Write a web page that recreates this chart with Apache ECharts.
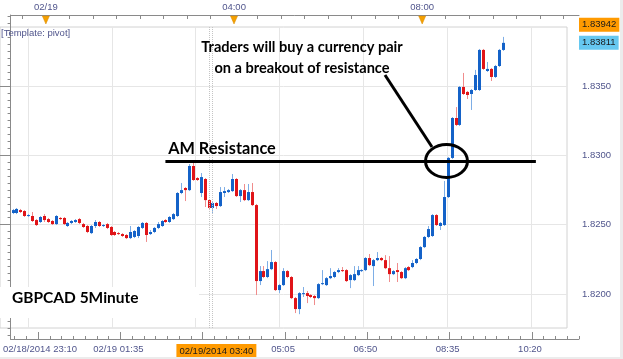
<!DOCTYPE html>
<html><head><meta charset="utf-8">
<script src="https://cdn.jsdelivr.net/npm/echarts@6/dist/echarts.min.js"></script>
<style>html,body{margin:0;padding:0;background:#fff}#c{width:623px;height:359px}</style>
</head><body><div id="c"></div>
<script>
// GBPCAD 5-minute candles (slot 0 = first visible bar)
const opens = [1.82584,1.82584,1.82605,1.82598,1.82562,1.82562,1.82533,1.82519,1.82562,1.82540,1.82526,1.82504,1.82548,1.82548,1.82490,1.82512,1.82519,1.82540,1.82504,1.82490,1.82439,1.82490,1.82519,1.82490,1.82504,1.82483,
1.82447,1.82439,1.82432,1.82425,1.82403,1.82411,1.82418,1.82476,1.82512,1.82432,1.82447,1.82476,1.82490,1.82533,1.82519,1.82540,1.82562,1.82728,1.82764,1.82749,1.82923,1.82836,1.82728,1.82829,1.82677,
1.82620,1.82656,1.82634,1.82728,1.82735,1.82742,1.82829,1.82706,1.82749,1.82677,1.82735,1.82641,1.82093,1.82165,1.82122,1.82179,1.82230,1.82028,1.82064,1.82165,1.82122,1.81970,1.81891,1.81999,1.82006,
1.81992,1.81985,1.81970,1.82071,1.82064,1.82114,1.82122,1.82158,1.82172,1.82172,1.82100,1.82100,1.82136,1.82165,1.82172,1.82259,1.82201,1.82244,1.82259,1.82244,1.82186,1.82143,1.82172,1.82158,1.82114,
1.82194,1.82194,1.82223,1.82252,1.82338,1.82411,1.82418,1.82569,1.82490,1.82497,1.82699,1.82981,1.83269,1.83219,1.83493,1.83457,1.83442,1.83471,1.83471,1.83760,1.83608,1.83623,1.83565,1.83644,1.83760];
const closes = [1.82605,1.82613,1.82591,1.82562,1.82569,1.82526,1.82497,1.82555,1.82533,1.82519,1.82504,1.82562,1.82540,1.82504,1.82512,1.82526,1.82533,1.82512,1.82483,1.82447,1.82490,1.82519,1.82490,1.82497,1.82476,1.82425,
1.82425,1.82432,1.82418,1.82403,1.82447,1.82454,1.82483,1.82512,1.82425,1.82447,1.82476,1.82504,1.82526,1.82519,1.82555,1.82576,1.82728,1.82749,1.82749,1.82923,1.82822,1.82822,1.82843,1.82677,1.82620,
1.82656,1.82634,1.82735,1.82742,1.82749,1.82829,1.82706,1.82749,1.82677,1.82735,1.82641,1.82093,1.82165,1.82122,1.82179,1.82230,1.82028,1.82064,1.82165,1.82122,1.81970,1.81891,1.82006,1.82006,1.81985,
1.81978,1.81970,1.82071,1.82078,1.82114,1.82129,1.82158,1.82172,1.82165,1.82093,1.82136,1.82143,1.82172,1.82172,1.82259,1.82208,1.82244,1.82259,1.82244,1.82186,1.82143,1.82165,1.82158,1.82114,1.82186,
1.82172,1.82223,1.82252,1.82338,1.82411,1.82468,1.82569,1.82497,1.82512,1.82699,1.82981,1.83269,1.83219,1.83493,1.83442,1.83435,1.83471,1.83579,1.83760,1.83623,1.83623,1.83565,1.83644,1.83760,1.83811];
const lows = [1.82576,1.82576,1.82584,1.82555,1.82555,1.82519,1.82490,1.82512,1.82519,1.82512,1.82497,1.82497,1.82533,1.82497,1.82483,1.82504,1.82512,1.82504,1.82476,1.82439,1.82432,1.82476,1.82483,1.82483,1.82468,1.82418,
1.82418,1.82425,1.82411,1.82396,1.82396,1.82403,1.82403,1.82468,1.82375,1.82425,1.82439,1.82468,1.82483,1.82512,1.82512,1.82533,1.82555,1.82720,1.82670,1.82742,1.82815,1.82815,1.82699,1.82627,1.82605,
1.82584,1.82613,1.82627,1.82699,1.82728,1.82735,1.82699,1.82663,1.82670,1.82670,1.82634,1.81992,1.82064,1.82114,1.82114,1.82172,1.82021,1.82006,1.82057,1.82114,1.81963,1.81862,1.81854,1.81978,1.81934,
1.81970,1.81920,1.81963,1.82064,1.82057,1.82107,1.82114,1.82150,1.82158,1.82086,1.82042,1.82093,1.82129,1.82158,1.82165,1.82201,1.82057,1.82237,1.82237,1.82179,1.82086,1.82136,1.82086,1.82107,1.82107,
1.82165,1.82186,1.82215,1.82244,1.82331,1.82403,1.82411,1.82490,1.82461,1.82490,1.82692,1.82973,1.83211,1.83211,1.83435,1.83406,1.83327,1.83464,1.83464,1.83616,1.83601,1.83536,1.83558,1.83637,1.83753];
const highs = [1.82613,1.82620,1.82613,1.82605,1.82576,1.82591,1.82540,1.82562,1.82576,1.82548,1.82533,1.82569,1.82555,1.82555,1.82519,1.82533,1.82540,1.82548,1.82512,1.82497,1.82497,1.82533,1.82526,1.82504,1.82512,1.82490,
1.82454,1.82447,1.82439,1.82432,1.82490,1.82461,1.82490,1.82519,1.82519,1.82461,1.82483,1.82519,1.82533,1.82540,1.82562,1.82584,1.82735,1.82800,1.82771,1.82937,1.82945,1.82843,1.82872,1.82836,1.82684,
1.82663,1.82663,1.82771,1.82771,1.82757,1.82865,1.82836,1.82757,1.82793,1.82793,1.82800,1.82649,1.82201,1.82201,1.82237,1.82317,1.82237,1.82071,1.82186,1.82172,1.82129,1.81978,1.82013,1.82050,1.82021,
1.81999,1.81992,1.82078,1.82172,1.82122,1.82186,1.82165,1.82186,1.82194,1.82179,1.82143,1.82201,1.82201,1.82179,1.82266,1.82288,1.82252,1.82302,1.82266,1.82280,1.82273,1.82172,1.82223,1.82165,1.82194,
1.82201,1.82244,1.82259,1.82345,1.82418,1.82490,1.82576,1.82576,1.82519,1.82815,1.82988,1.83276,1.83348,1.83500,1.83594,1.83464,1.83478,1.83616,1.83767,1.83767,1.83673,1.83630,1.83652,1.83767,1.83854];

// axis ticks / labels
const yMajor = [1.8200, 1.8250, 1.8300, 1.8350];
const priceTags = [1.83942, 1.83811];
const bottomLabelSlots = [7.5, 27.5, 52.5, 69.5, 90.5, 111.5, 132.5];
const bottomLabels = ['02/18/2014 23:10', '02/19 01:35', '02/19/2014 03:40', '05:05', '06:50', '08:35', '10:20'];
const cursorLabel = '02/19/2014 03:40';
const bottomMajorTicks = [7, 28, 49, 70, 91, 112, 133];
const topLabelSlots = [9, 57, 105];
const topLabels = ['02/19', '04:00', '08:00'];
const resistance = 1.82954;
const cursorLines = [52.4, 53.1];

const yMinor = [];
for (let k = 0; k <= 46; k++) yMinor.push(+(1.8170 + k * 0.0005).toFixed(4));
const bottomMinorTicks = [];
for (let v = 1; v <= 145; v += 3) bottomMinorTicks.push(v);
const topTicks = [];
for (let v = 3; v <= 145; v += 6) topTicks.push(v);
const slots = Array.from({length: 145}, (_, i) => String(i));

const UP = '#1462c8', DOWN = '#e01418', UPW = '#7eaee6', DOWNW = '#f08c8c';
const LBL = '#50558c', AX = '#8a8a8a';
const FONT = "'Liberation Sans', Arial, sans-serif";

const chart = echarts.init(document.getElementById('c'), null, {renderer: 'canvas'});
const candleData = opens.map((o, i) => [i, o, closes[i], lows[i], highs[i]]);

const option = {
  animation: false,
  backgroundColor: '#ffffff',
  grid: [
    {left: -1, right: 44, top: 15, bottom: 20, show: false},
    {left: -1, right: 56, top: 27, bottom: 31, show: true, borderColor: '#d2d2d2', borderWidth: 1, backgroundColor: 'transparent'}
  ],
  xAxis: [
    {type: 'category', gridIndex: 0, data: slots, boundaryGap: true, show: false},
    {type: 'value', gridIndex: 0, position: 'bottom', min: 0, max: 145,
     axisLine: {show: true, lineStyle: {color: AX, width: 1}},
     axisTick: {show: true, inside: true, length: 7, customValues: bottomMajorTicks, lineStyle: {color: AX}},
     axisLabel: {show: true, customValues: bottomLabelSlots, margin: 5, color: LBL, fontFamily: FONT, fontSize: 9.5,
       formatter: function (v) {
         const i = bottomLabelSlots.indexOf(v);
         const t = bottomLabels[i];
         return t === cursorLabel ? '{h|' + t + '}' : t;
       },
       rich: {h: {backgroundColor: '#ff9a00', color: '#1a1a1a', padding: [2, 3, 1, 3], fontFamily: FONT, fontSize: 9.5}}},
     splitLine: {show: false}},
    {type: 'value', gridIndex: 0, position: 'bottom', min: 0, max: 145,
     axisLine: {show: false}, axisLabel: {show: false}, splitLine: {show: false},
     axisTick: {show: true, inside: true, length: 3, customValues: bottomMinorTicks, lineStyle: {color: AX}}},
    {type: 'value', gridIndex: 0, position: 'top', min: 0, max: 145,
     axisLine: {show: true, lineStyle: {color: AX, width: 1}},
     axisTick: {show: true, inside: true, length: 4, customValues: topTicks, lineStyle: {color: AX}},
     axisLabel: {show: true, customValues: topLabelSlots, margin: 3, color: LBL, fontFamily: FONT, fontSize: 9.5,
       formatter: function (v) { return topLabels[topLabelSlots.indexOf(v)]; }},
     splitLine: {show: false}},
    {type: 'value', gridIndex: 1, min: 0, max: 142,
     axisLine: {show: false}, axisLabel: {show: false},
     axisTick: {show: false, customValues: bottomMajorTicks},
     splitLine: {show: true, lineStyle: {color: '#e6e6e6', width: 1}}}
  ],
  yAxis: [
    {type: 'value', gridIndex: 0, position: 'right', min: 1.81675, max: 1.84012, scale: true,
     axisLine: {show: true, lineStyle: {color: AX, width: 1}},
     axisTick: {show: true, inside: true, length: 11, customValues: yMajor, lineStyle: {color: AX}},
     axisLabel: {show: true, customValues: yMajor, margin: 3, color: LBL, fontFamily: FONT, fontSize: 9.5,
       formatter: function (v) { return v.toFixed(4); }},
     splitLine: {show: false}},
    {type: 'value', gridIndex: 0, position: 'right', min: 1.81675, max: 1.84012, scale: true,
     axisLine: {show: false}, axisLabel: {show: false}, splitLine: {show: false},
     axisTick: {show: true, inside: true, length: 3, customValues: yMinor, lineStyle: {color: AX}}},
    {type: 'value', gridIndex: 0, position: 'right', min: 1.81675, max: 1.84012, scale: true,
     axisLine: {show: false}, axisTick: {show: false}, splitLine: {show: false},
     axisLabel: {show: true, customValues: priceTags, margin: 0, fontFamily: FONT, fontSize: 9.5,
       formatter: function (v) { return (Math.abs(v - priceTags[0]) < 1e-7 ? '{o|' : '{c|') + v.toFixed(5) + '}'; },
       rich: {
         o: {backgroundColor: '#ff9a00', color: '#1a1a1a', padding: [2, 3, 2, 3], fontFamily: FONT, fontSize: 9.5},
         c: {backgroundColor: '#66c8f0', color: '#1a1a1a', padding: [2, 3, 2, 3], fontFamily: FONT, fontSize: 9.5}
       }}},
    {type: 'value', gridIndex: 1, min: 1.81754, max: 1.83926, scale: true,
     axisLine: {show: false}, axisLabel: {show: false},
     axisTick: {show: false, customValues: yMajor},
     splitLine: {show: true, lineStyle: {color: '#e6e6e6', width: 1}}}
  ],
  series: [
    {type: 'line', xAxisIndex: 4, yAxisIndex: 3, data: [], silent: true,
     markLine: {silent: true, symbol: 'none', animation: false, label: {show: false},
       lineStyle: {color: '#c4c4c4', width: 1, type: 'dotted'},
       data: cursorLines.map(v => ({xAxis: v}))}},
    {type: 'custom', xAxisIndex: 0, yAxisIndex: 0, data: candleData,
     encode: {x: 0, y: [1, 2, 3, 4]},
     renderItem: function (params, api) {
       const j = api.value(0), o = api.value(1), c = api.value(2), l = api.value(3), h = api.value(4);
       const pO = api.coord([j, o]), pC = api.coord([j, c]), pL = api.coord([j, l]), pH = api.coord([j, h]);
       const x = Math.round(pO[0]);
       const up = c >= o;
       const top = Math.min(pO[1], pC[1]), bot = Math.max(pO[1], pC[1]);
       return {type: 'group', children: [
         {type: 'line', shape: {x1: x + 0.5, y1: pH[1], x2: x + 0.5, y2: pL[1]}, style: {stroke: up ? UPW : DOWNW, lineWidth: 1}},
         {type: 'rect', shape: {x: x - 1, y: top, width: 3, height: Math.max(1, bot - top)}, style: {fill: up ? UP : DOWN}}
       ]};
     }},
    {type: 'line', xAxisIndex: 1, yAxisIndex: 0, data: [], silent: true, z: 5,
     markLine: {silent: true, symbol: 'none', animation: false, label: {show: false},
       lineStyle: {color: '#000', width: 3, type: 'solid'},
       data: [[{coord: [39.5, resistance]}, {coord: [134, resistance]}]]}}
  ]
};
chart.setOption(option);

const tri = topLabelSlots.map(v => {
  const x = chart.convertToPixel({xAxisIndex: 3}, v);
  return {type: 'polygon', z: 20, shape: {points: [[x - 3.5, 16], [x + 3.5, 16], [x, 24]]}, style: {fill: '#f5a000', stroke: '#d88a00', lineWidth: 0.5}};
});

chart.setOption({graphic: [
  {type: 'rect', z: 1, shape: {x: 0, y: 287, width: 199, height: 31}, style: {fill: '#ffffff'}},
  {type: 'rect', z: 1, shape: {x: 620, y: 0, width: 3, height: 359}, style: {fill: '#ececec'}},
  {type: 'rect', z: 1, shape: {x: 0, y: 357, width: 623, height: 2}, style: {fill: '#ececec'}},
  {type: 'text', z: 20, style: {text: '[Template: pivot]', x: 1, y: 33, textVerticalAlign: 'middle', font: "9.5px 'Liberation Sans'", fill: LBL}},
  {type: 'text', z: 20, style: {text: 'Traders will buy a currency pair', x: 302, y: 47, textAlign: 'center', textVerticalAlign: 'middle', font: "bold 14.6px Lato", fill: '#000'}},
  {type: 'text', z: 20, style: {text: 'on a breakout of resistance', x: 302, y: 68, textAlign: 'center', textVerticalAlign: 'middle', font: "bold 14.6px Lato", fill: '#000'}},
  {type: 'text', z: 20, style: {text: 'AM Resistance', x: 222, y: 149, textAlign: 'center', textVerticalAlign: 'middle', font: "bold 16.3px Lato", fill: '#000'}},
  {type: 'text', z: 20, style: {text: 'GBPCAD 5Minute', x: 12, y: 298, textVerticalAlign: 'middle', font: "bold 15.5px Lato", fill: '#000'}},
  {type: 'line', z: 20, shape: {x1: 385, y1: 75, x2: 432, y2: 147}, style: {stroke: '#000', lineWidth: 3}},
  {type: 'ellipse', z: 20, shape: {cx: 446.5, cy: 161, rx: 21, ry: 16.5}, style: {fill: 'none', stroke: '#000', lineWidth: 3}}
].concat(tri)});
</script>
</body></html>
